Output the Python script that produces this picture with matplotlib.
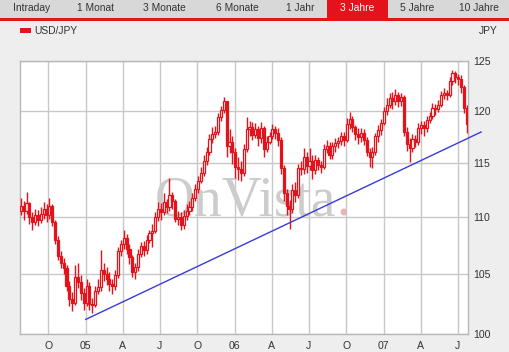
"""USD/JPY 3-year weekly candlestick chart (OnVista style)."""

import datetime as dt

import matplotlib
matplotlib.use("Agg")
import matplotlib.pyplot as plt
import matplotlib.dates as mdates
from matplotlib.patches import Rectangle
from matplotlib.ticker import FixedLocator, FixedFormatter, NullLocator

plt.rcParams["font.family"] = ["Liberation Sans", "DejaVu Sans"]

# ---- data (weekly, starting Monday 2004-07-26) -------------------------
start_week = dt.date(2004, 7, 26)

close = [
    111.0, 110.6, 111.3, 110.0, 109.6, 110.2, 109.8, 110.3, 110.8, 110.2,
    111.0, 109.6, 108.0, 106.6, 106.0, 105.5, 104.0, 102.9, 102.6, 104.8,
    104.3, 103.4, 102.6, 104.0, 102.5, 102.4, 103.6, 103.9, 105.4, 105.0,
    104.6, 104.2, 104.0, 104.9, 107.0, 107.6, 108.2, 107.2, 106.5, 105.2,
    105.6, 106.8, 107.5, 107.1, 108.0, 108.6, 108.8, 110.0, 110.8, 110.5,
    111.4, 110.9, 112.0, 111.5, 109.9, 110.0, 109.3, 110.1, 110.6, 110.9,
    111.8, 112.6, 113.3, 114.1, 115.2, 116.0, 117.3, 117.8, 118.0, 119.4,
    120.1, 121.0, 116.6, 117.0, 116.0, 114.6, 114.4, 114.1, 116.3, 118.2,
    118.4, 117.7, 118.2, 117.4, 118.3, 116.3, 117.0, 117.6, 118.2, 117.9,
    117.2, 114.5, 112.2, 111.0, 110.8, 112.5, 112.0, 114.5, 114.4, 115.6,
    114.7, 115.2, 114.3, 115.3, 114.8, 114.6, 116.3, 116.6, 115.8, 116.6,
    116.9, 117.1, 117.6, 117.2, 118.7, 119.2, 118.4, 117.8, 117.5, 117.9,
    117.2, 116.0, 115.6, 116.0, 117.6, 118.1, 118.8, 120.0, 120.6, 121.3,
    121.0, 121.6, 121.0, 121.4, 118.0, 116.8, 116.4, 117.3, 117.0, 118.3,
    118.6, 118.3, 119.1, 119.5, 120.3, 120.2, 120.6, 121.6, 121.8, 121.6,
    123.0, 123.8, 123.4, 123.2, 122.4, 120.3, 118.7,
]
high = [
    111.8, 111.5, 112.3, 111.4, 110.5, 110.8, 110.7, 110.9, 111.4, 111.2,
    111.8, 111.2, 109.8, 108.3, 107.0, 106.4, 105.8, 104.4, 103.5, 105.8,
    106.0, 104.9, 103.8, 104.6, 104.3, 103.0, 104.0, 104.6, 107.1, 106.0,
    105.6, 105.2, 104.6, 105.4, 107.4, 108.0, 108.9, 108.5, 107.6, 106.7,
    106.0, 107.2, 107.8, 107.9, 108.4, 108.9, 109.4, 110.5, 111.4, 111.3,
    112.2, 111.7, 113.6, 112.3, 111.7, 110.6, 110.5, 110.7, 111.2, 111.5,
    112.2, 113.0, 113.8, 114.6, 115.8, 116.5, 117.8, 118.4, 118.5, 119.8,
    120.5, 121.4, 121.0, 118.2, 117.6, 116.4, 115.6, 115.2, 116.8, 119.4,
    119.0, 118.9, 118.8, 118.5, 118.9, 118.5, 117.6, 118.0, 118.7, 118.5,
    118.3, 117.5, 114.8, 112.6, 111.6, 113.0, 113.2, 114.9, 115.2, 116.4,
    116.0, 116.4, 115.8, 115.8, 115.6, 115.2, 116.8, 117.2, 117.0, 117.0,
    117.4, 117.5, 118.0, 118.0, 119.3, 119.9, 119.5, 118.6, 118.3, 118.3,
    118.2, 117.5, 116.4, 116.5, 117.9, 118.6, 119.2, 120.4, 121.3, 121.8,
    121.9, 122.2, 121.9, 121.8, 121.6, 118.4, 117.4, 117.8, 117.7, 118.8,
    119.0, 119.0, 119.5, 119.9, 120.8, 120.7, 121.1, 122.0, 122.3, 122.1,
    123.4, 124.1, 124.0, 123.7, 123.6, 122.6, 120.6,
]
low = [
    110.2, 109.8, 110.3, 109.4, 108.9, 109.3, 109.2, 109.5, 109.9, 109.6,
    109.9, 109.2, 107.6, 106.2, 105.5, 105.0, 103.6, 102.3, 101.9, 102.4,
    103.8, 102.8, 102.0, 102.3, 102.0, 101.7, 102.2, 103.3, 103.6, 104.4,
    104.1, 103.6, 103.3, 103.7, 104.7, 106.6, 107.2, 106.8, 105.9, 104.8,
    104.6, 105.3, 106.5, 106.6, 106.8, 107.7, 107.4, 108.6, 109.7, 109.8,
    110.2, 110.4, 110.6, 110.8, 109.6, 109.3, 108.9, 109.0, 109.8, 110.2,
    110.6, 111.5, 112.2, 113.1, 113.8, 114.8, 115.8, 116.9, 117.4, 117.7,
    119.0, 119.8, 115.6, 115.9, 114.9, 113.6, 113.4, 113.3, 113.8, 116.0,
    117.6, 117.2, 117.4, 116.6, 116.9, 115.6, 116.0, 116.8, 117.3, 117.3,
    116.6, 114.0, 111.5, 110.2, 109.0, 110.4, 111.4, 111.8, 113.9, 114.0,
    114.1, 114.3, 113.5, 114.0, 114.3, 114.1, 114.4, 115.9, 115.4, 115.4,
    116.0, 116.4, 116.7, 116.6, 117.0, 118.2, 118.0, 117.2, 116.8, 117.0,
    116.7, 115.7, 114.6, 114.5, 115.8, 117.0, 117.7, 118.6, 119.6, 120.3,
    120.2, 120.6, 120.4, 120.5, 117.6, 116.1, 115.1, 116.0, 116.5, 116.7,
    117.8, 117.6, 118.0, 118.8, 119.2, 119.6, 119.9, 120.4, 121.2, 121.1,
    121.4, 122.6, 122.8, 122.6, 121.8, 119.8, 117.9,
]
first_open = 110.6

trend_dates = [dt.date(2005, 1, 1), dt.date(2007, 8, 27)]
trend_values = [101.2, 117.95]

y_ticks = [100, 105, 110, 115, 120, 125]
x_tick_dates = [
    dt.date(2004, 10, 1), dt.date(2005, 1, 1), dt.date(2005, 4, 1), dt.date(2005, 7, 1),
    dt.date(2005, 10, 1), dt.date(2006, 1, 1), dt.date(2006, 4, 1), dt.date(2006, 7, 1),
    dt.date(2006, 10, 1), dt.date(2007, 1, 1), dt.date(2007, 4, 1), dt.date(2007, 7, 1),
]
x_tick_labels = ["O", "05", "A", "J", "O", "06", "A", "J", "O", "07", "A", "J"]

tabs = ["Intraday", "1 Monat", "3 Monate", "6 Monate", "1 Jahr", "3 Jahre", "5 Jahre", "10 Jahre"]
tab_centers = [32, 96, 164, 237, 300, 357, 417, 479]
active_tab = "3 Jahre"

# ---- style -------------------------------------------------------------
W, H = 510, 352
RED = "#e4121a"
BG = "#eeeeee"
TAB_BG = "#d8d8d8"
GRID = "#c8c8c8"
TEXT = "#333333"


def fx(px):
    return px / W


def fy(py):
    return 1 - py / H


fig = plt.figure(figsize=(W / 100, H / 100), dpi=100, facecolor=BG)

# header: tab bar
fig.add_artist(Rectangle((0, fy(18)), 1, 18 / H, transform=fig.transFigure,
                         facecolor=TAB_BG, edgecolor="none"))
fig.add_artist(Rectangle((fx(327), fy(18)), 61 / W, 18 / H, transform=fig.transFigure,
                         facecolor=RED, edgecolor="none"))
fig.add_artist(Rectangle((0, fy(21)), 1, 3 / H, transform=fig.transFigure,
                         facecolor=RED, edgecolor="none"))
for label, cx in zip(tabs, tab_centers):
    fig.text(fx(cx), fy(8), label, ha="center", va="center", fontsize=7.4,
             color="white" if label == active_tab else TEXT)

# legend row
fig.add_artist(Rectangle((fx(20), fy(33)), 11 / W, 5 / H, transform=fig.transFigure,
                         facecolor=RED, edgecolor="none"))
fig.text(fx(34), fy(30.5), "USD/JPY", ha="left", va="center", fontsize=7.4, color=TEXT)
fig.text(fx(498), fy(30.5), "JPY", ha="right", va="center", fontsize=7.4, color=TEXT)

# plot area
ax = fig.add_axes([fx(20), fy(334), 448 / W, 273 / H])
ax.set_facecolor("white")

dates = [start_week + dt.timedelta(weeks=i) for i in range(len(close))]
xs = mdates.date2num(dates)
opens = [first_open] + close[:-1]

ax.vlines(xs, low, high, color=RED, linewidth=1.0, zorder=3)
for x, o, c in zip(xs, opens, close):
    bottom, top = min(o, c), max(o, c)
    if top - bottom < 0.08:
        top = bottom + 0.08
    up = c >= o
    ax.add_patch(Rectangle((x - 2.6, bottom), 5.2, top - bottom,
                           facecolor="white" if up else RED, edgecolor=RED,
                           linewidth=0.9, zorder=4))

ax.plot(mdates.date2num(trend_dates), trend_values, color="#3a3ad8",
        linewidth=1.0, zorder=5, clip_on=False)

# watermark
wm_y = (334 - 215) / 273
ax.text((155 - 20) / 448, wm_y, "OnVista", transform=ax.transAxes, ha="left",
        va="baseline", fontsize=40, family="Liberation Serif", color="#cccccc", zorder=1)
ax.text((336 - 20) / 448, wm_y, ".", transform=ax.transAxes, ha="left",
        va="baseline", fontsize=40, family="Liberation Serif", color="#e8b4b4", zorder=1)

ax.set_yscale("log")
ax.set_ylim(100, 125)
ax.set_xlim(mdates.date2num(dt.date(2004, 7, 24)), mdates.date2num(dt.date(2007, 7, 26)))

ax.yaxis.set_major_locator(FixedLocator(y_ticks))
ax.yaxis.set_major_formatter(FixedFormatter([str(v) for v in y_ticks]))
ax.yaxis.set_minor_locator(NullLocator())
ax.yaxis.tick_right()
ax.xaxis.set_major_locator(FixedLocator(mdates.date2num(x_tick_dates)))
ax.xaxis.set_major_formatter(FixedFormatter(x_tick_labels))
ax.xaxis.set_minor_locator(NullLocator())
ax.tick_params(axis="both", length=0, labelsize=7.6, colors=TEXT)
ax.tick_params(axis="y", pad=4)
ax.tick_params(axis="x", pad=5)

ax.grid(True, color=GRID, linewidth=1.0, zorder=0)
ax.set_axisbelow(True)
for sp in ax.spines.values():
    sp.set_color("#b8b8b8")
    sp.set_linewidth(1.0)

fig.savefig("out.png", dpi=100, facecolor=BG)
